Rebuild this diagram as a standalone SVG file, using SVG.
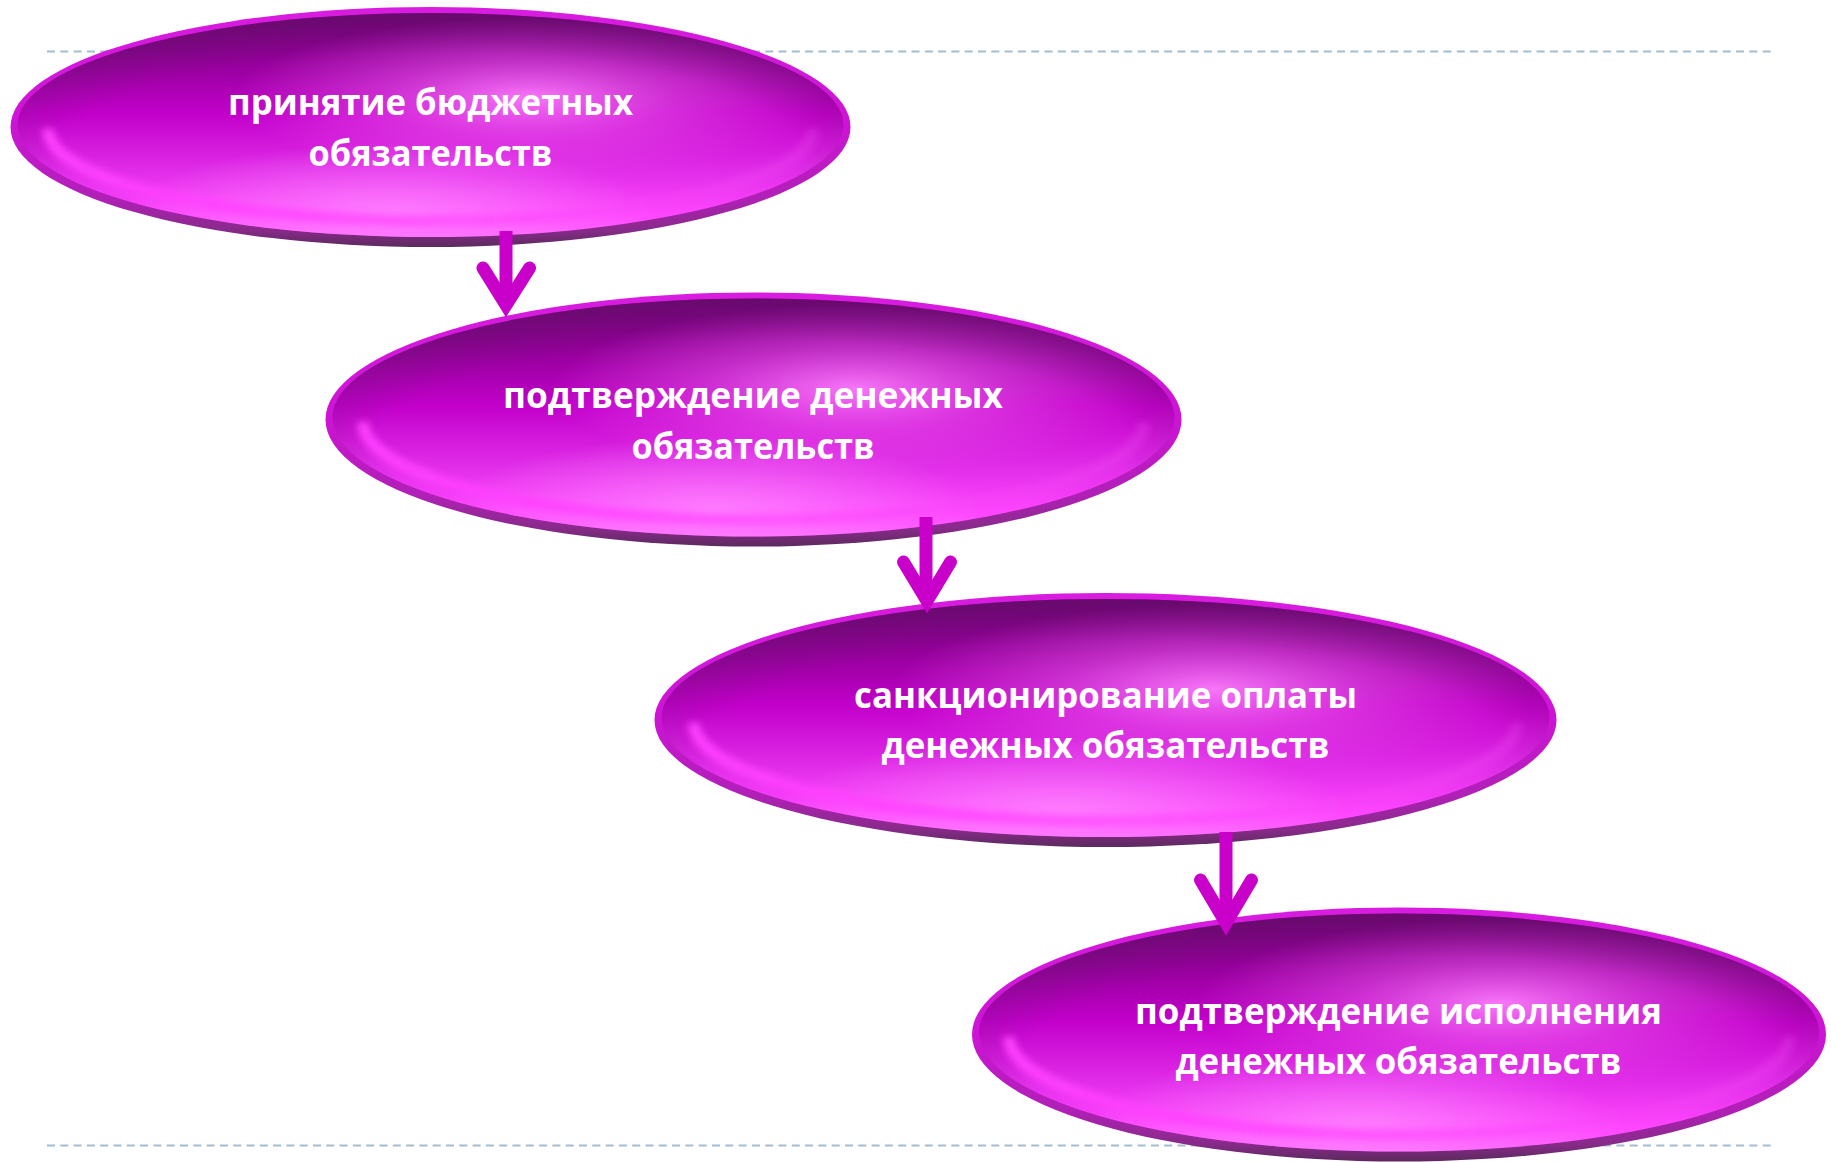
<svg xmlns="http://www.w3.org/2000/svg" width="1831" height="1162" viewBox="0 0 1831 1162">
<defs>
<linearGradient id="gRim" x1="0" y1="0" x2="0" y2="1">
<stop offset="0" stop-color="#d81ce0"/>
<stop offset="0.5" stop-color="#cc14d4"/>
<stop offset="0.8" stop-color="#b020b6"/>
<stop offset="0.93" stop-color="#882a8a"/>
<stop offset="1" stop-color="#5c2a5e"/>
</linearGradient>
<linearGradient id="gBody" x1="0" y1="0" x2="0" y2="1">
<stop offset="0" stop-color="#700074"/>
<stop offset="0.2" stop-color="#900096"/>
<stop offset="0.45" stop-color="#c200ca"/>
<stop offset="0.7" stop-color="#e02ce8"/>
<stop offset="0.9" stop-color="#ff46ff"/>
<stop offset="1" stop-color="#ff5aff"/>
</linearGradient>
<radialGradient id="gGlow" cx="0.62" cy="0.38" r="0.36">
<stop offset="0" stop-color="#ff84ff" stop-opacity="0.9"/>
<stop offset="0.5" stop-color="#f060f2" stop-opacity="0.45"/>
<stop offset="1" stop-color="#f060f2" stop-opacity="0"/>
</radialGradient>
<radialGradient id="gLow" cx="0.45" cy="0.9" r="0.32">
<stop offset="0" stop-color="#ff96ff" stop-opacity="0.7"/>
<stop offset="1" stop-color="#ff96ff" stop-opacity="0"/>
</radialGradient>
<radialGradient id="gShade" cx="0.5" cy="0.62" r="0.62">
<stop offset="0.72" stop-color="#5a1a60" stop-opacity="0"/>
<stop offset="1" stop-color="#5a1a60" stop-opacity="0.4"/>
</radialGradient>
<linearGradient id="gBevel" x1="0" y1="0" x2="1" y2="0">
<stop offset="0" stop-color="#ff40ff" stop-opacity="0.95"/>
<stop offset="0.5" stop-color="#ff40ff" stop-opacity="0.6"/>
<stop offset="1" stop-color="#f048f0" stop-opacity="0.3"/>
</linearGradient>
<filter id="fBlur" x="-10%" y="-20%" width="120%" height="140%">
<feGaussianBlur stdDeviation="3.5"/>
</filter>
</defs>
<style>
.rim{fill:url(#gRim)}
.body{fill:url(#gBody)}
.glow{fill:url(#gGlow)}
.low{fill:url(#gLow)}
.shade{fill:url(#gShade)}
.bevel{fill:none;stroke:url(#gBevel);stroke-width:12;filter:url(#fBlur)}
.lbl{fill:#ffffff;font-family:"Open Sans","Noto Sans","DejaVu Sans",sans-serif;font-weight:700;font-size:35px;text-anchor:middle}
.dash{stroke:#a3bccf;stroke-width:2;stroke-dasharray:8 5.3;fill:none}
.shaft{stroke:#c900c9;stroke-width:13;fill:none}
.head{stroke:#c900c9;stroke-width:13;fill:none;stroke-linecap:round;stroke-linejoin:miter}
</style>
<rect width="1831" height="1162" fill="#ffffff"/>
<g id="guides">
<line class="dash" x1="47" y1="51.5" x2="1775" y2="51.5"/>
<line class="dash" x1="47" y1="1145.5" x2="1775" y2="1145.5"/>
</g>
<g id="nodes">
<g id="n1">
<ellipse class="rim" cx="430.5" cy="127" rx="420" ry="120"/>
<ellipse class="body" cx="430.5" cy="125" rx="413" ry="112"/>
<ellipse class="glow" cx="430.5" cy="125" rx="413" ry="112"/>
<ellipse class="low" cx="430.5" cy="125" rx="413" ry="112"/>
<ellipse class="shade" cx="430.5" cy="125" rx="413" ry="112"/>
<path class="bevel" d="M 48,129 A 382.5,92 0 0 0 813,129"/>
<text class="lbl" x="430.5" y="115" textLength="405" lengthAdjust="spacingAndGlyphs">принятие бюджетных</text>
<text class="lbl" x="430.5" y="166" textLength="244" lengthAdjust="spacingAndGlyphs">обязательств</text>
</g>
<g id="n2">
<ellipse class="rim" cx="753.5" cy="419.5" rx="428" ry="127"/>
<ellipse class="body" cx="753.5" cy="417.5" rx="421" ry="119"/>
<ellipse class="glow" cx="753.5" cy="417.5" rx="421" ry="119"/>
<ellipse class="low" cx="753.5" cy="417.5" rx="421" ry="119"/>
<ellipse class="shade" cx="753.5" cy="417.5" rx="421" ry="119"/>
<path class="bevel" d="M 363,422 A 390.5,98 0 0 0 1144,422"/>
<text class="lbl" x="753" y="408" textLength="500" lengthAdjust="spacingAndGlyphs">подтверждение денежных</text>
<text class="lbl" x="753" y="459" textLength="243" lengthAdjust="spacingAndGlyphs">обязательств</text>
</g>
<g id="n3">
<ellipse class="rim" cx="1105.5" cy="720" rx="451" ry="127"/>
<ellipse class="body" cx="1105.5" cy="718" rx="444" ry="119"/>
<ellipse class="glow" cx="1105.5" cy="718" rx="444" ry="119"/>
<ellipse class="low" cx="1105.5" cy="718" rx="444" ry="119"/>
<ellipse class="shade" cx="1105.5" cy="718" rx="444" ry="119"/>
<path class="bevel" d="M 694,723 A 411.5,98 0 0 0 1517,723"/>
<text class="lbl" x="1105.5" y="708" textLength="503" lengthAdjust="spacingAndGlyphs">санкционирование оплаты</text>
<text class="lbl" x="1105.5" y="758" textLength="448" lengthAdjust="spacingAndGlyphs">денежных обязательств</text>
</g>
<g id="n4">
<ellipse class="rim" cx="1399" cy="1034.5" rx="427" ry="127"/>
<ellipse class="body" cx="1399" cy="1032.5" rx="420" ry="119"/>
<ellipse class="glow" cx="1399" cy="1032.5" rx="420" ry="119"/>
<ellipse class="low" cx="1399" cy="1032.5" rx="420" ry="119"/>
<ellipse class="shade" cx="1399" cy="1032.5" rx="420" ry="119"/>
<path class="bevel" d="M 1009,1037 A 390,98 0 0 0 1789,1037"/>
<text class="lbl" x="1398.5" y="1024" textLength="527" lengthAdjust="spacingAndGlyphs">подтверждение исполнения</text>
<text class="lbl" x="1398.5" y="1074" textLength="446" lengthAdjust="spacingAndGlyphs">денежных обязательств</text>
</g>
</g>
<g id="connectors">
<g id="a1">
<line class="shaft" x1="506" y1="231" x2="506" y2="300"/>
<polyline class="head" points="483,268 506,305 529.5,268"/>
</g>
<g id="a2">
<line class="shaft" x1="926" y1="517" x2="926" y2="596"/>
<polyline class="head" points="903.5,562 927,601 950.5,562"/>
</g>
<g id="a3">
<line class="shaft" x1="1226" y1="832" x2="1226" y2="918"/>
<polyline class="head" points="1200.5,880 1226,923 1251.5,880"/>
</g>
</g>
</svg>
